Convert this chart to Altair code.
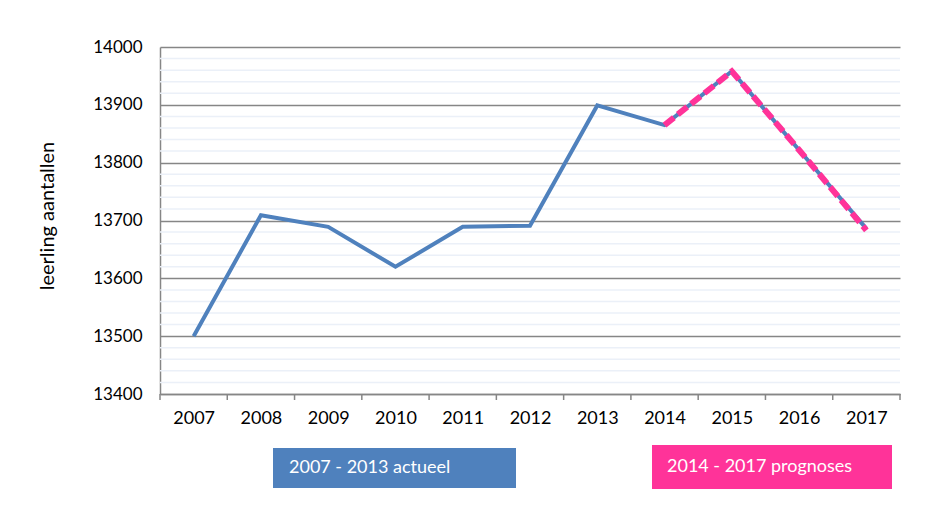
import altair as alt
import pandas as pd

years = [2007, 2008, 2009, 2010, 2011, 2012, 2013, 2014, 2015, 2016, 2017]
actual = [13500, 13709, 13689, 13620, 13689, 13691, 13899, 13865, 13958, 13822, 13686]
prog_years = [2014, 2015, 2016, 2017]
prog_values = [13865, 13958, 13822, 13683]
major_ticks = [13400, 13500, 13600, 13700, 13800, 13900, 14000]
minor_ticks = [v for v in range(13400, 14001, 20) if v % 100 != 0]
legend_labels = ["2007 - 2013 actueel", "2014 - 2017 prognoses"]

FONT = "Lato"
BLUE = "#4F81BD"
PINK = "#FF3399"
W, H = 740, 347

df_a = pd.DataFrame({"year": years, "value": actual})
df_p = pd.DataFrame({"year": prog_years, "value": prog_values})
df_minor = pd.DataFrame({"v": minor_ticks})
df_bounds = pd.DataFrame({"b": [y - 0.5 for y in years] + [years[-1] + 0.5]})
one = pd.DataFrame({"k": [0]})

xscale = alt.Scale(domain=[years[0] - 0.5, years[-1] + 0.5], nice=False, zero=False)
yscale = alt.Scale(domain=[13400, 14000], nice=False, zero=False)

minor = alt.Chart(df_minor).mark_rule(color="#EBF0F8", strokeWidth=1.5).encode(
    y=alt.Y("v:Q", scale=yscale)
)

xaxis = alt.Axis(values=years, format="d", ticks=False, grid=False, title=None,
                 labelFont=FONT, labelFontSize=18, labelColor="#000000",
                 labelPadding=15, domainColor="#868686", domainWidth=1.5)
yaxis = alt.Axis(values=major_ticks, format="d", ticks=False, grid=True,
                 gridColor="#868686", gridWidth=1.5,
                 labelFont=FONT, labelFontSize=17, labelColor="#000000", labelPadding=18,
                 domainColor="#868686", domainWidth=1.5,
                 title="leerling aantallen", titleFont=FONT, titleFontSize=20,
                 titleFontWeight="normal", titleColor="#000000",
                 titleX=-113, titleY=H / 2 - 5, titleAngle=270,
                 titleAlign="center", titleBaseline="middle")

line_a = alt.Chart(df_a).mark_line(color=BLUE, strokeWidth=4).encode(
    x=alt.X("year:Q", scale=xscale, axis=xaxis),
    y=alt.Y("value:Q", scale=yscale, axis=yaxis),
)
line_p = alt.Chart(df_p).mark_line(color=PINK, strokeWidth=6, strokeDash=[12, 5], strokeCap="butt").encode(
    x=alt.X("year:Q", scale=xscale),
    y=alt.Y("value:Q", scale=yscale),
)

ticks = alt.Chart(df_bounds).mark_rule(color="#868686", strokeWidth=1.5).encode(
    x=alt.X("b:Q", scale=xscale),
    y=alt.value(H),
    y2=alt.value(H + 6),
)

box_a = alt.Chart(one).mark_rect(color=BLUE).encode(
    x=alt.value(113), x2=alt.value(356), y=alt.value(401), y2=alt.value(441)
)
txt_a = alt.Chart(one).mark_text(text=legend_labels[0], color="white", font=FONT, fontSize=18,
                                 align="left", baseline="middle").encode(
    x=alt.value(129), y=alt.value(421)
)
box_p = alt.Chart(one).mark_rect(color=PINK).encode(
    x=alt.value(492), x2=alt.value(732), y=alt.value(398), y2=alt.value(442)
)
txt_p = alt.Chart(one).mark_text(text=legend_labels[1], color="white", font=FONT, fontSize=18,
                                 align="left", baseline="middle").encode(
    x=alt.value(507), y=alt.value(420)
)

chart = alt.layer(minor, line_a, line_p, ticks, box_a, txt_a, box_p, txt_p).properties(
    width=W, height=H,
    autosize=alt.AutoSizeParams(type="none"),
    padding={"left": 152, "top": 39, "right": 20, "bottom": 100},
    background="white",
).configure_view(stroke=None)

chart.save("out.html", embed_options={"renderer": "svg", "actions": False})
